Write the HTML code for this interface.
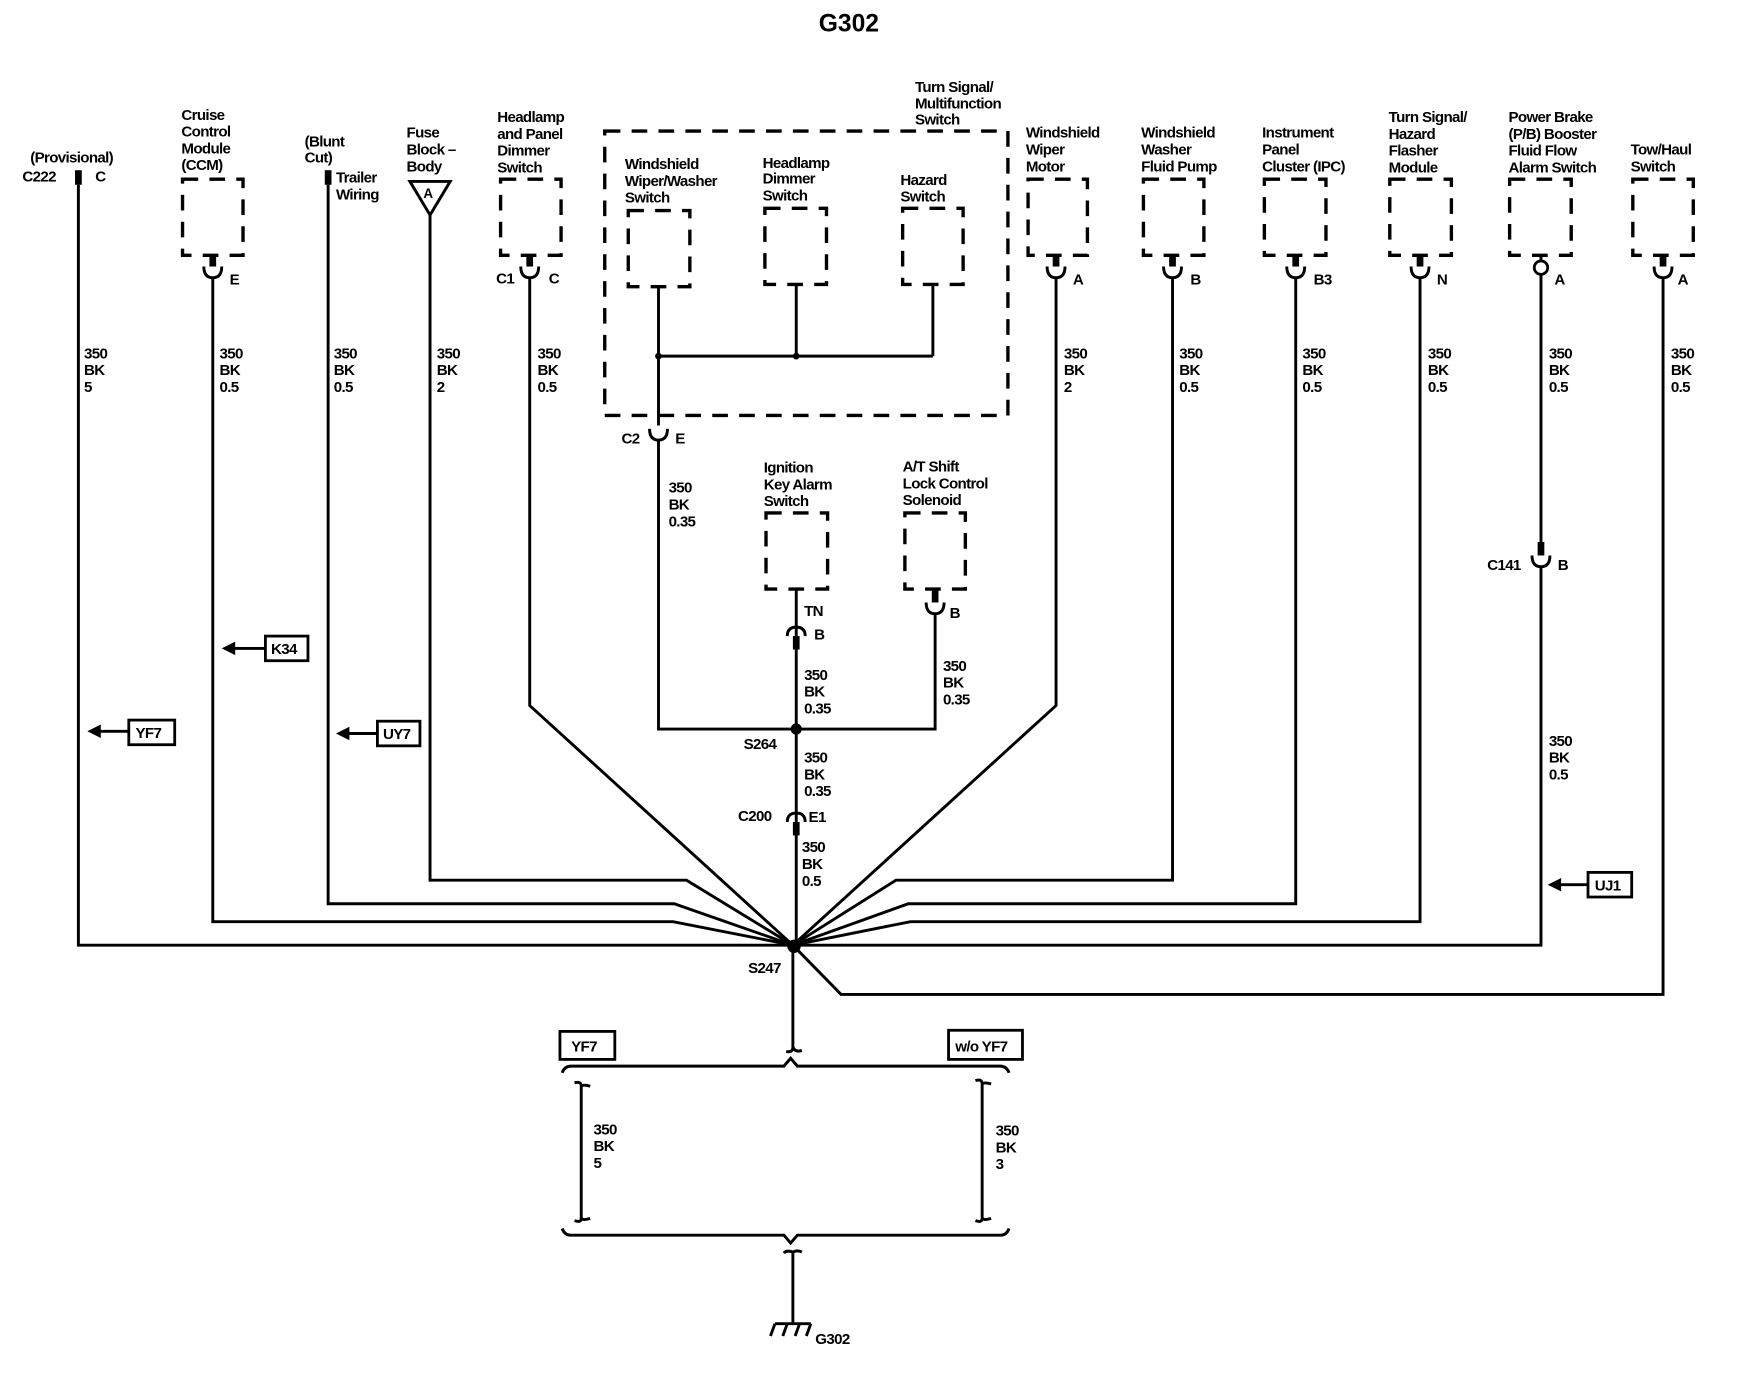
<!DOCTYPE html>
<html><head><meta charset="utf-8"><style>
html,body{margin:0;padding:0;background:#fff;}
svg{display:block}
text{font-family:"Liberation Sans",Arial,sans-serif;font-size:13.5px;font-weight:bold;fill:#000;letter-spacing:-0.6px}
.w{stroke:#000;stroke-width:2.6;fill:none}
.d{stroke:#000;stroke-width:3;fill:none;stroke-dasharray:14 10}
.t{stroke:#000;stroke-width:6;fill:none}
</style></head><body>
<svg width="1756" height="1392" viewBox="0 0 1568 1243" preserveAspectRatio="none" xmlns="http://www.w3.org/2000/svg">
<text x="758" y="28" text-anchor="middle" style="font-size:22px;letter-spacing:0">G302</text>

<!-- C222 -->
<text x="27" y="145">(Provisional)</text>
<text x="20" y="162">C222</text><text x="85" y="162">C</text>
<rect x="67" y="152" width="6" height="13"/>
<path class="w" d="M70 165 V844 H708"/>
<text x="75" y="320">350</text><text x="75" y="335">BK</text><text x="75" y="350">5</text>
<rect x="115" y="643" width="41" height="22" fill="none" stroke="#000" stroke-width="2.5"/><text x="121" y="659">YF7</text>
<path class="w" d="M115 653 H86"/><path d="M78 653 L90 647 L90 659Z"/>

<!-- CCM -->
<text x="162" y="107">Cruise</text><text x="162" y="122">Control</text><text x="162" y="137">Module</text><text x="162" y="152">(CCM)</text>
<rect class="d" x="163" y="160" width="54" height="68"/>
<path class="t" d="M190 228 V238"/><path class="w" d="M182 238 Q182 248 190 248 Q198 248 198 238"/>
<text x="205" y="254">E</text>
<path class="w" d="M190 248 V823 H601 L708 844"/>
<text x="196" y="320">350</text><text x="196" y="335">BK</text><text x="196" y="350">0.5</text>
<rect x="237" y="568" width="38" height="22" fill="none" stroke="#000" stroke-width="2.5"/><text x="242" y="584">K34</text>
<path class="w" d="M237 579 H206"/><path d="M198 579 L210 573 L210 585Z"/>

<!-- Trailer -->
<text x="272" y="131">(Blunt</text><text x="272" y="145">Cut)</text>
<rect x="290" y="152" width="6" height="13"/>
<text x="300" y="163">Trailer</text><text x="300" y="178">Wiring</text>
<path class="w" d="M293 165 V807 H602 L708 844"/>
<text x="298" y="320">350</text><text x="298" y="335">BK</text><text x="298" y="350">0.5</text>
<rect x="337" y="644" width="38" height="22" fill="none" stroke="#000" stroke-width="2.5"/><text x="342" y="660">UY7</text>
<path class="w" d="M337 655 H308"/><path d="M300 655 L312 649 L312 661Z"/>

<!-- Fuse block -->
<text x="363" y="123">Fuse</text><text x="363" y="138">Block –</text><text x="363" y="153">Body</text>
<path class="w" d="M366 162 H402 L384 192 Z"/><text x="378" y="177" style="font-size:12px">A</text>
<path class="w" d="M384 192 V786 H613 L708 844"/>
<text x="390" y="320">350</text><text x="390" y="335">BK</text><text x="390" y="350">2</text>

<!-- Headlamp panel dimmer -->
<text x="444" y="109">Headlamp</text><text x="444" y="124">and Panel</text><text x="444" y="139">Dimmer</text><text x="444" y="154">Switch</text>
<rect class="d" x="447" y="160" width="54" height="68"/>
<path class="t" d="M473 228 V238"/><path class="w" d="M465 238 Q465 248 473 248 Q481 248 481 238"/>
<text x="443" y="253">C1</text><text x="490" y="253">C</text>
<path class="w" d="M473 248 V630 L708 844"/>
<text x="480" y="320">350</text><text x="480" y="335">BK</text><text x="480" y="350">0.5</text>

<!-- Multifunction -->
<text x="817" y="82">Turn Signal/</text><text x="817" y="97">Multifunction</text><text x="817" y="111">Switch</text>
<rect class="d" x="540" y="117" width="360" height="254"/>
<text x="558" y="151">Windshield</text><text x="558" y="166">Wiper/Washer</text><text x="558" y="181">Switch</text>
<rect class="d" x="561" y="188" width="55" height="68"/>
<text x="681" y="150">Headlamp</text><text x="681" y="164">Dimmer</text><text x="681" y="179">Switch</text>
<rect class="d" x="683" y="186" width="55" height="68"/>
<text x="804" y="165">Hazard</text><text x="804" y="180">Switch</text>
<rect class="d" x="806" y="186" width="54" height="68"/>
<path class="w" d="M588 256 V380 M711 254 V318 M833 254 V318 M588 318 H833"/>
<circle cx="588" cy="318" r="3"/><circle cx="711" cy="318" r="3"/>
<path class="w" d="M580 383 Q580 393 588 393 Q596 393 596 383"/>
<text x="555" y="396">C2</text><text x="603" y="396">E</text>
<path class="w" d="M588 393 V651 H835 V548"/>
<text x="597" y="440">350</text><text x="597" y="455">BK</text><text x="597" y="470">0.35</text>

<!-- Ignition key -->
<text x="682" y="422">Ignition</text><text x="682" y="437">Key Alarm</text><text x="682" y="452">Switch</text>
<rect class="d" x="684" y="458" width="55" height="68"/>
<path class="w" d="M711 526 V568"/><path class="w" d="M703 568 Q703 560 711 560 Q719 560 719 568"/>
<path class="t" d="M711 568 V580"/>
<text x="718" y="550">TN</text><text x="727" y="571">B</text>
<path class="w" d="M711 580 V844"/>
<text x="718" y="607">350</text><text x="718" y="622">BK</text><text x="718" y="637">0.35</text>

<!-- A/T Shift -->
<text x="806" y="421">A/T Shift</text><text x="806" y="436">Lock Control</text><text x="806" y="451">Solenoid</text>
<rect class="d" x="808" y="458" width="54" height="68"/>
<path class="t" d="M835 526 V538"/><path class="w" d="M827 538 Q827 548 835 548 Q843 548 843 538"/>
<text x="848" y="552">B</text>
<text x="842" y="599">350</text><text x="842" y="614">BK</text><text x="842" y="629">0.35</text>

<circle cx="711" cy="651" r="5"/>
<text x="664" y="669">S264</text>
<text x="718" y="681">350</text><text x="718" y="696">BK</text><text x="718" y="711">0.35</text>
<path class="w" d="M703 734 Q703 726 711 726 Q719 726 719 734"/><path class="t" d="M711 734 V746"/>
<text x="659" y="733">C200</text><text x="722" y="734">E1</text>
<text x="716" y="761">350</text><text x="716" y="776">BK</text><text x="716" y="791">0.5</text>

<!-- Right side -->
<text x="916" y="123">Windshield</text><text x="916" y="138">Wiper</text><text x="916" y="153">Motor</text>
<rect class="d" x="918" y="160" width="53" height="68"/>
<path class="t" d="M943 228 V238"/><path class="w" d="M935 238 Q935 248 943 248 Q951 248 951 238"/>
<text x="958" y="254">A</text>
<path class="w" d="M943 248 V630 L708 844"/>
<text x="950" y="320">350</text><text x="950" y="335">BK</text><text x="950" y="350">2</text>

<text x="1019" y="123">Windshield</text><text x="1019" y="138">Washer</text><text x="1019" y="153">Fluid Pump</text>
<rect class="d" x="1021" y="160" width="54" height="68"/>
<path class="t" d="M1047 228 V238"/><path class="w" d="M1039 238 Q1039 248 1047 248 Q1055 248 1055 238"/>
<text x="1063" y="254">B</text>
<path class="w" d="M1047 248 V786 H800 L708 844"/>
<text x="1053" y="320">350</text><text x="1053" y="335">BK</text><text x="1053" y="350">0.5</text>

<text x="1127" y="123">Instrument</text><text x="1127" y="138">Panel</text><text x="1127" y="153">Cluster (IPC)</text>
<rect class="d" x="1129" y="160" width="55" height="68"/>
<path class="t" d="M1157 228 V238"/><path class="w" d="M1149 238 Q1149 248 1157 248 Q1165 248 1165 238"/>
<text x="1173" y="254">B3</text>
<path class="w" d="M1157 248 V807 H811 L708 844"/>
<text x="1163" y="320">350</text><text x="1163" y="335">BK</text><text x="1163" y="350">0.5</text>

<text x="1240" y="109">Turn Signal/</text><text x="1240" y="124">Hazard</text><text x="1240" y="139">Flasher</text><text x="1240" y="154">Module</text>
<rect class="d" x="1241" y="160" width="55" height="68"/>
<path class="t" d="M1268 228 V238"/><path class="w" d="M1260 238 Q1260 248 1268 248 Q1276 248 1276 238"/>
<text x="1283" y="254">N</text>
<path class="w" d="M1268 248 V823 H813 L708 844"/>
<text x="1275" y="320">350</text><text x="1275" y="335">BK</text><text x="1275" y="350">0.5</text>

<text x="1347" y="109">Power Brake</text><text x="1347" y="124">(P/B) Booster</text><text x="1347" y="139">Fluid Flow</text><text x="1347" y="154">Alarm Switch</text>
<rect class="d" x="1348" y="160" width="55" height="68"/>
<path class="w" d="M1376 228 V232"/><circle cx="1376" cy="239" r="6" fill="none" stroke="#000" stroke-width="2.5"/>
<text x="1388" y="254">A</text>
<path class="w" d="M1376 245 V486"/><path class="t" d="M1376 484 V496"/>
<path class="w" d="M1368 496 Q1368 506 1376 506 Q1384 506 1384 496"/>
<text x="1328" y="509">C141</text><text x="1391" y="509">B</text>
<path class="w" d="M1376 506 V844 H708"/>
<text x="1383" y="320">350</text><text x="1383" y="335">BK</text><text x="1383" y="350">0.5</text>
<text x="1383" y="666">350</text><text x="1383" y="681">BK</text><text x="1383" y="696">0.5</text>
<rect x="1418" y="779" width="39" height="22" fill="none" stroke="#000" stroke-width="2.5"/><text x="1424" y="795">UJ1</text>
<path class="w" d="M1418 790 H1390"/><path d="M1382 790 L1394 784 L1394 796Z"/>

<text x="1456" y="138">Tow/Haul</text><text x="1456" y="153">Switch</text>
<rect class="d" x="1458" y="160" width="54" height="68"/>
<path class="t" d="M1485 228 V238"/><path class="w" d="M1477 238 Q1477 248 1485 248 Q1493 248 1493 238"/>
<text x="1498" y="254">A</text>
<path class="w" d="M1485 248 V888 H751 L708 844"/>
<text x="1492" y="320">350</text><text x="1492" y="335">BK</text><text x="1492" y="350">0.5</text>

<circle cx="709" cy="845" r="6"/>
<text x="668" y="869">S247</text>

<!-- bottom -->
<path class="w" d="M708 844 V935 Q708 940 702 939 M708 935 Q710 940 716 938"/>
<rect x="500" y="921" width="49" height="25" fill="none" stroke="#000" stroke-width="2.5"/><text x="510" y="939">YF7</text>
<rect x="847" y="920" width="66" height="26" fill="none" stroke="#000" stroke-width="2.5"/><text x="853" y="939">w/o YF7</text>
<path class="w" d="M502 958 Q504 952 510 952 H700 L706 945 L712 952 H893 Q899 952 901 958"/>
<path class="w" d="M513 967 Q519 965 519 970 V1088 Q519 1092 513 1090 M519 970 Q521 968 527 970 M519 1088 Q521 1090 527 1088"/>
<text x="530" y="1013">350</text><text x="530" y="1028">BK</text><text x="530" y="1043">5</text>
<path class="w" d="M871 965 Q877 963 877 968 V1088 Q877 1092 871 1090 M877 968 Q879 966 885 968 M877 1088 Q879 1090 885 1088"/>
<text x="889" y="1014">350</text><text x="889" y="1029">BK</text><text x="889" y="1044">3</text>
<path class="w" d="M502 1097 Q504 1103 510 1103 H700 L706 1110 L712 1103 H893 Q899 1103 901 1097"/>
<path class="w" d="M700 1119 Q702 1116 708 1118 V1182 M708 1118 Q712 1116 716 1118"/>
<path class="w" d="M692 1182 H724 M692 1182 L688 1193 M703 1182 L699 1193 M714 1182 L710 1193 M724 1182 L720 1193"/>
<text x="728" y="1200">G302</text>
</svg>
</body></html>
